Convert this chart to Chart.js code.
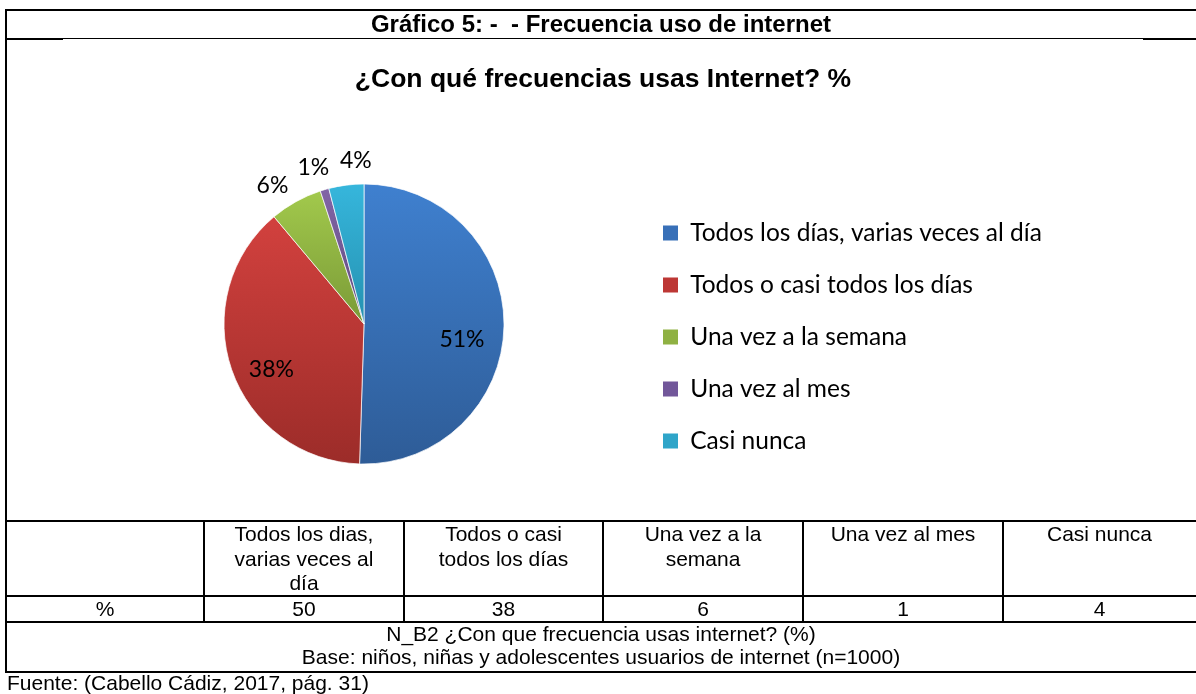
<!DOCTYPE html>
<html>
<head>
<meta charset="utf-8">
<script src="https://cdn.jsdelivr.net/npm/chart.js@4.4.0/dist/chart.umd.min.js"></script>
<style>
  html, body { margin: 0; padding: 0; background: #fff; }
  #page { position: relative; width: 1196px; height: 694px; overflow: hidden; font-family: "Liberation Sans", Arial, sans-serif; color: #000; }
  .rule { position: absolute; background: #000; }
  .txt { position: absolute; text-align: center; }
  #chartBox { position: absolute; left: 6px; top: 39px; width: 1190px; height: 482px; }
</style>
</head>
<body>
<div id="page">
  <div id="chartBox"><canvas id="pieChart" width="1190" height="482"></canvas></div>
</div>
<script>
// data
const categories = ['Todos los días, varias veces al día', 'Todos o casi todos los días', 'Una vez a la semana', 'Una vez al mes', 'Casi nunca'];
const tableHeads = ['Todos los dias,\nvarias veces al\ndía', 'Todos o casi\ntodos los días', 'Una vez a la\nsemana', 'Una vez al mes', 'Casi nunca'];
const values = [50, 38, 6, 1, 4];
const rowLabel = '%';
const headerText = 'Gráfico 5: -  - Frecuencia uso de internet';
const chartTitle = '¿Con qué frecuencias usas Internet? %';
const notes = ['N_B2 ¿Con que frecuencia usas internet? (%)', 'Base: niños, niñas y adolescentes usuarios de internet (n=1000)'];
const source = 'Fuente: (Cabello Cádiz, 2017, pág. 31)';

// slice colours, light at the top and dark at the bottom like the office gradient
const topColors = ['#3f80cf', '#d2413e', '#a2c94c', '#8265a6', '#36b6dc'];
const bottomColors = ['#2e5c97', '#9c2c29', '#7a9a37', '#5e4a7e', '#2591b0'];
const legendColors = ['#3870b8', '#bd3735', '#8fb143', '#72579a', '#2fa5c9'];

const page = document.getElementById('page');

function rule(x, y, w, h) {
    const d = document.createElement('div');
    d.className = 'rule';
    d.style.left = x + 'px';
    d.style.top = y + 'px';
    d.style.width = w + 'px';
    d.style.height = h + 'px';
    page.appendChild(d);
}

function text(str, x, y, w, lh, css) {
    const d = document.createElement('div');
    d.className = 'txt';
    d.textContent = str;
    d.style.left = x + 'px';
    d.style.top = y + 'px';
    d.style.width = w + 'px';
    d.style.lineHeight = lh + 'px';
    Object.assign(d.style, css || {});
    page.appendChild(d);
}

// frame
rule(6, 9, 1190, 2);
rule(5, 9, 2, 663);
rule(6, 38, 57, 2);
rule(63, 38, 1080, 1);
rule(1143, 38, 53, 2);

text(headerText, 6, 10, 1190, 28, { fontWeight: 'bold', fontSize: '24px', whiteSpace: 'pre' });
text(chartTitle, 8, 63, 1190, 30, { fontWeight: 'bold', fontSize: '26.5px', whiteSpace: 'pre' });

// data table under the chart
const colEdges = [6, 204, 404, 603, 803, 1003, 1196];
rule(6, 520, 1190, 2);
rule(6, 595, 1190, 2);
rule(6, 621, 1190, 2);
rule(5, 671, 1191, 2);
for (let j = 1; j < colEdges.length - 1; j++) {
    rule(colEdges[j] - 1, 520, 2, 102);
}
text(rowLabel, colEdges[0], 596, colEdges[1] - colEdges[0], 26, { fontSize: '21px' });
tableHeads.forEach((h, i) => {
    const x = colEdges[i + 1], w = colEdges[i + 2] - colEdges[i + 1];
    text(h, x, 522, w, 24.5, { fontSize: '21px', whiteSpace: 'pre-line' });
    text(String(values[i]), x, 596, w, 26, { fontSize: '21px' });
});
notes.forEach((n, i) => {
    text(n, 6, 623 + i * 22.5, 1190, 22.5, { fontSize: '21px', whiteSpace: 'pre' });
});
text(source, 7, 672, 600, 22, { fontSize: '21px', textAlign: 'left', whiteSpace: 'pre' });

// pie chart
const total = values.reduce((a, b) => a + b, 0);
const pieRadius = 140;
const legendFont = { family: 'Lato', size: 24.5 };
const legendPad = 27.5;
const pieCx = 358;      // wanted pie centre inside the canvas
const legendBoxX = 657; // wanted left edge of the legend squares inside the canvas

// measure the widest legend entry so the legend lands where it should
const mctx = document.createElement('canvas').getContext('2d');
mctx.font = legendFont.size + 'px ' + legendFont.family;
const maxTextW = Math.max(...categories.map(c => mctx.measureText(c).width));
const legendW = legendPad + 15 + legendFont.size / 2 + maxTextW + 10;
const legendLeft = legendBoxX - legendPad;
const padLeft = 2 * pieCx - legendLeft;
const padRight = Math.max(0, 1190 - legendLeft - legendW);

function sliceFill(context) {
    const i = context.dataIndex;
    const chart = context.chart;
    const area = chart.chartArea;
    if (!area) return topColors[i];
    let before = 0;
    for (let k = 0; k < i; k++) before += values[k];
    const a0 = -Math.PI / 2 + 2 * Math.PI * before / total;
    const a1 = a0 + 2 * Math.PI * values[i] / total;
    const cy = (area.top + area.bottom) / 2;
    const ys = [cy, cy + pieRadius * Math.sin(a0), cy + pieRadius * Math.sin(a1)];
    if (a0 <= Math.PI / 2 && a1 >= Math.PI / 2) ys.push(cy + pieRadius);
    if ((a0 <= -Math.PI / 2 && a1 >= -Math.PI / 2) || (a0 <= 1.5 * Math.PI && a1 >= 1.5 * Math.PI)) ys.push(cy - pieRadius);
    const y0 = Math.min(...ys), y1 = Math.max(...ys);
    const g = chart.ctx.createLinearGradient(0, y0, 0, Math.max(y1, y0 + 1));
    g.addColorStop(0, topColors[i]);
    g.addColorStop(1, bottomColors[i]);
    return g;
}

// percentage labels, inside for big slices and outside for small ones
const sliceLabels = {
    id: 'sliceLabels',
    afterDatasetsDraw(chart) {
        const meta = chart.getDatasetMeta(0);
        const ctx = chart.ctx;
        ctx.save();
        ctx.font = '23px Lato';
        ctx.fillStyle = '#000';
        ctx.textAlign = 'center';
        ctx.textBaseline = 'middle';
        const h = 20, gap = 14, sep = 8;
        const placeOut = (arc, ang, w) => {
            const dx = Math.cos(ang), dy = Math.sin(ang);
            const px = arc.x + dx * arc.outerRadius, py = arc.y + dy * arc.outerRadius;
            return { x: px + dx * (w / 2 + gap), y: py + dy * (h / 2 + gap), w };
        };
        const overlaps = (a, b) => Math.abs(a.x - b.x) < (a.w + b.w) / 2 + sep && Math.abs(a.y - b.y) < h;

        const outside = [];
        meta.data.forEach((arc, i) => {
            const share = values[i] / total;
            const pct = Math.round(share * 100) + '%';
            const mid = (arc.startAngle + arc.endAngle) / 2;
            if (share > 0.1) {
                const d = arc.outerRadius * 0.7;
                ctx.fillText(pct, arc.x + Math.cos(mid) * d, arc.y + Math.sin(mid) * d + 14);
            } else {
                outside.push({ arc, pct, ang: mid, w: ctx.measureText(pct).width });
            }
        });
        // push neighbouring outside labels apart along the rim until they stop touching
        for (let it = 0; it < 200; it++) {
            let moved = false;
            for (let k = 0; k + 1 < outside.length; k++) {
                const a = outside[k], b = outside[k + 1];
                if (overlaps(placeOut(a.arc, a.ang, a.w), placeOut(b.arc, b.ang, b.w))) {
                    a.ang -= Math.PI / 360;
                    b.ang += Math.PI / 360;
                    moved = true;
                }
            }
            if (!moved) break;
        }
        outside.forEach(o => {
            const p = placeOut(o.arc, o.ang, o.w);
            ctx.fillText(o.pct, p.x, p.y);
        });
        ctx.restore();
    }
};

const ctx = document.getElementById('pieChart').getContext('2d');
const pieChart = new Chart(ctx, {
    type: 'pie',
    data: {
        labels: categories,
        datasets: [{
            data: values,
            backgroundColor: sliceFill,
            borderColor: 'rgba(255,255,255,0.7)',
            borderWidth: 1,
            radius: pieRadius
        }]
    },
    options: {
        responsive: false,
        animation: false,
        events: [],
        layout: { padding: { top: 120, bottom: 32, left: padLeft, right: padRight } },
        plugins: {
            tooltip: { enabled: false },
            title: { display: false },
            legend: {
                position: 'right',
                align: 'center',
                title: { display: true, text: '', padding: { top: 25, bottom: 0 }, font: { size: 1 } },
                labels: {
                    boxWidth: 15,
                    boxHeight: 15,
                    padding: legendPad,
                    color: '#000',
                    font: legendFont,
                    generateLabels: chart => categories.map((c, i) => ({
                        text: c,
                        fillStyle: legendColors[i],
                        strokeStyle: legendColors[i],
                        fontColor: '#000',
                        lineWidth: 0,
                        hidden: false,
                        index: i
                    }))
                }
            }
        }
    },
    plugins: [sliceLabels]
});
</script>
</body>
</html>
